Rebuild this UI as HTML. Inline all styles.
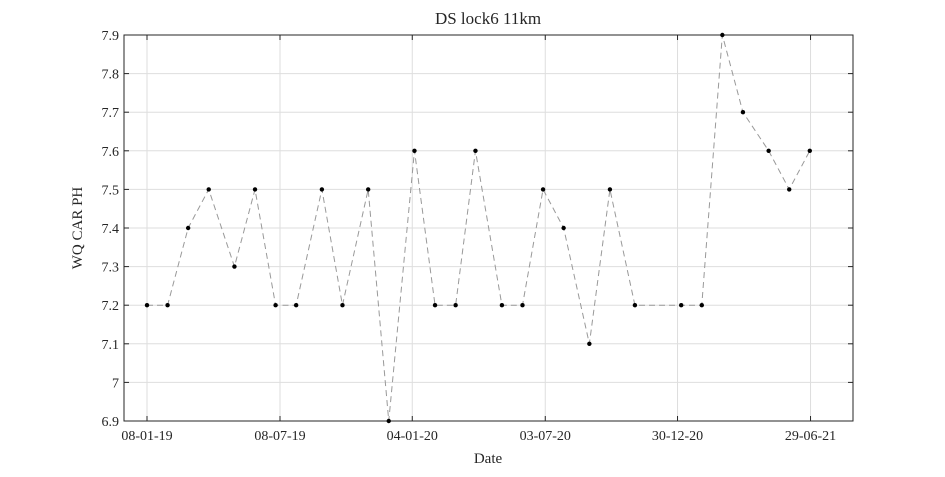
<!DOCTYPE html>
<html><head><meta charset="utf-8"><style>
body{margin:0;background:#fff;width:945px;height:472px;overflow:hidden}
text{font-family:"Liberation Serif",serif;fill:#262626}
</style></head><body>
<svg id="chart" width="945" height="472">
<rect x="0" y="0" width="945" height="472" fill="#fff"/>
<rect x="124" y="35" width="729" height="386" fill="#fff"/>
<g id="grid"></g><g id="axes"></g><g id="series"></g>
<text x="488" y="24" text-anchor="middle" font-size="17">DS lock6 11km</text>
<text x="488" y="463" text-anchor="middle" font-size="15">Date</text>
<text transform="translate(82,228) rotate(-90)" text-anchor="middle" font-size="15">WQ CAR PH</text>
</svg>
<script>
const dates=["2019-01-08","2019-02-05","2019-03-05","2019-04-02","2019-05-07","2019-06-04","2019-07-02","2019-07-30","2019-09-03","2019-10-01","2019-11-05","2019-12-03","2020-01-07","2020-02-04","2020-03-03","2020-03-30","2020-05-05","2020-06-02","2020-06-30","2020-07-28","2020-09-01","2020-09-29","2020-11-02","2021-01-04","2021-02-01","2021-03-01","2021-03-29","2021-05-03","2021-05-31","2021-06-28"];
const values=[7.2,7.2,7.4,7.5,7.3,7.5,7.2,7.2,7.5,7.2,7.5,6.9,7.6,7.2,7.2,7.6,7.2,7.2,7.5,7.4,7.1,7.5,7.2,7.2,7.2,7.9,7.7,7.6,7.5,7.6];
const xTickDates=["2019-01-08","2019-07-08","2020-01-04","2020-07-03","2020-12-30","2021-06-29"];
const xTickLabels=["08-01-19","08-07-19","04-01-20","03-07-20","30-12-20","29-06-21"];
const yTicks=[6.9,7,7.1,7.2,7.3,7.4,7.5,7.6,7.7,7.8,7.9];
const NS="http://www.w3.org/2000/svg";
const L=124,R=853,T=35,B=421;
const d0=Date.parse("2019-01-08"),pxPerDay=133/181;
function xs(d){return 147+(Date.parse(d)-d0)/864e5*pxPerDay;}
function ys(v){return B-(v-6.9)/(7.9-6.9)*(B-T);}
function mk(tag,attrs,parent){const e=document.createElementNS(NS,tag);for(const k in attrs)e.setAttribute(k,attrs[k]);parent.appendChild(e);return e;}
const grid=document.getElementById('grid'),axes=document.getElementById('axes'),series=document.getElementById('series');
yTicks.forEach(v=>{const y=ys(v);
 const g=mk('line',{x1:L,x2:R,y1:y,y2:y,stroke:'#dedede','stroke-width':1},grid);
 
 
 const t=mk('text',{x:L-5,y:y+5,'text-anchor':'end','font-size':14},axes);t.textContent=String(v);
 
 
 mk('line',{x1:L,x2:L+5,y1:y,y2:y,stroke:'#262626'},axes);
 mk('line',{x1:R,x2:R-5,y1:y,y2:y,stroke:'#262626'},axes);
});
xTickDates.forEach((d,i)=>{const x=xs(d);
 const g=mk('line',{x1:x,x2:x,y1:T,y2:B,stroke:'#dedede','stroke-width':1},grid);
 
 
 const t=mk('text',{x:x,y:B+19,'text-anchor':'middle','font-size':14},axes);t.textContent=xTickLabels[i];
 
 
 mk('line',{x1:x,x2:x,y1:B,y2:B-5,stroke:'#262626'},axes);
 mk('line',{x1:x,x2:x,y1:T,y2:T+5,stroke:'#262626'},axes);
});
const box=mk('rect',{x:L,y:T,width:R-L,height:B-T,fill:'none',stroke:'#262626','stroke-width':1},axes);


const pts=dates.map((d,i)=>xs(d)+','+ys(values[i])).join(' ');
const line=mk('polyline',{points:pts,fill:'none',stroke:'#999','stroke-width':1,'stroke-dasharray':'6,4'},series);


dates.forEach((d,i)=>{const c=mk('circle',{cx:xs(d),cy:ys(values[i]),r:2.2,fill:'#000'},series);
 
 
});
</script>
</body></html>
